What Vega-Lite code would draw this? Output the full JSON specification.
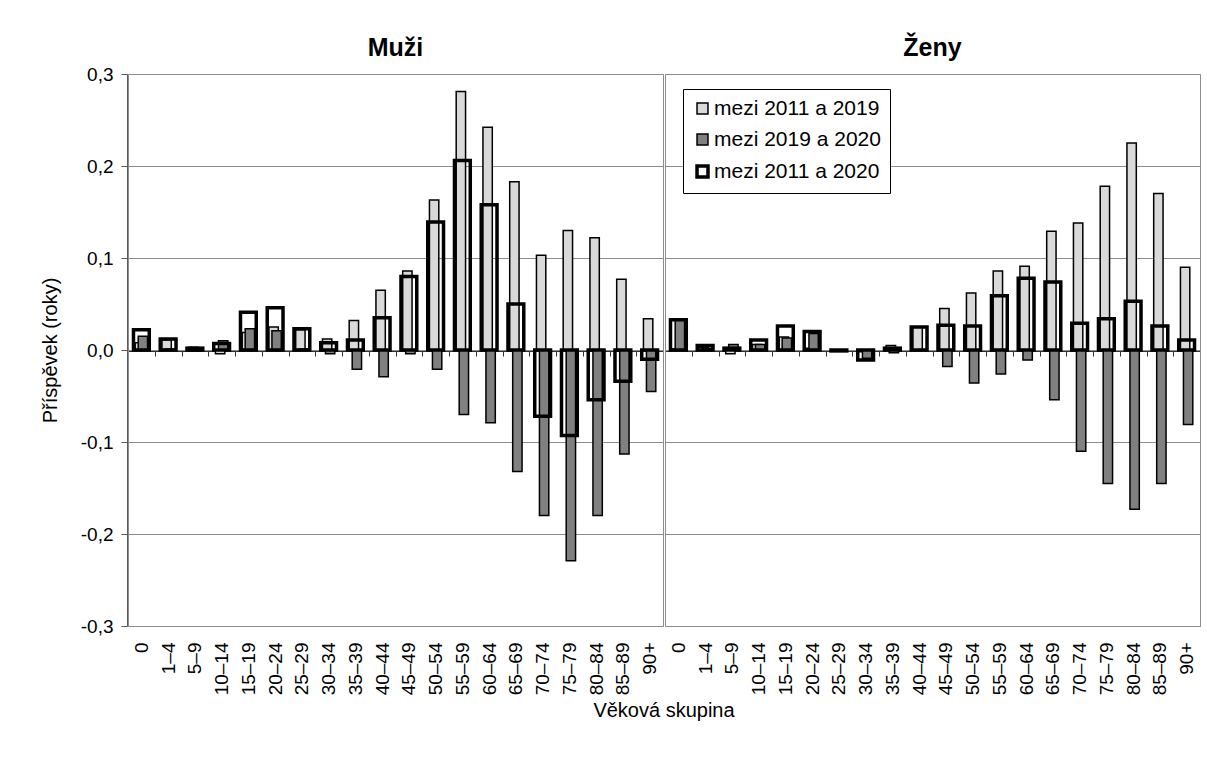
{
  "$schema": "https://vega.github.io/schema/vega-lite/v6.json",
  "padding": {"left": 40, "top": 36, "right": 0, "bottom": 0},
  "background": "white",
  "config": {
    "font": "Liberation Sans",
    "locale": {"number": {"decimal": ",", "thousands": " ", "grouping": [3], "currency": ["", " Kč"], "minus": "-"}},
    "view": {"stroke": "#8c8c8c", "strokeWidth": 1}
  },
  "data": {"values": [
    {"pohlavi": "Muži", "vek": "0", "obdobi": "mezi 2011 a 2019", "hodnota": 0.008},
    {"pohlavi": "Muži", "vek": "0", "obdobi": "mezi 2019 a 2020", "hodnota": 0.015},
    {"pohlavi": "Muži", "vek": "0", "obdobi": "mezi 2011 a 2020", "hodnota": 0.022},
    {"pohlavi": "Muži", "vek": "1–4", "obdobi": "mezi 2011 a 2019", "hodnota": 0.011},
    {"pohlavi": "Muži", "vek": "1–4", "obdobi": "mezi 2019 a 2020", "hodnota": 0.001},
    {"pohlavi": "Muži", "vek": "1–4", "obdobi": "mezi 2011 a 2020", "hodnota": 0.012},
    {"pohlavi": "Muži", "vek": "5–9", "obdobi": "mezi 2011 a 2019", "hodnota": 0.003},
    {"pohlavi": "Muži", "vek": "5–9", "obdobi": "mezi 2019 a 2020", "hodnota": -0.001},
    {"pohlavi": "Muži", "vek": "5–9", "obdobi": "mezi 2011 a 2020", "hodnota": 0.002},
    {"pohlavi": "Muži", "vek": "10–14", "obdobi": "mezi 2011 a 2019", "hodnota": -0.004},
    {"pohlavi": "Muži", "vek": "10–14", "obdobi": "mezi 2019 a 2020", "hodnota": 0.010},
    {"pohlavi": "Muži", "vek": "10–14", "obdobi": "mezi 2011 a 2020", "hodnota": 0.007},
    {"pohlavi": "Muži", "vek": "15–19", "obdobi": "mezi 2011 a 2019", "hodnota": 0.019},
    {"pohlavi": "Muži", "vek": "15–19", "obdobi": "mezi 2019 a 2020", "hodnota": 0.023},
    {"pohlavi": "Muži", "vek": "15–19", "obdobi": "mezi 2011 a 2020", "hodnota": 0.041},
    {"pohlavi": "Muži", "vek": "20–24", "obdobi": "mezi 2011 a 2019", "hodnota": 0.025},
    {"pohlavi": "Muži", "vek": "20–24", "obdobi": "mezi 2019 a 2020", "hodnota": 0.021},
    {"pohlavi": "Muži", "vek": "20–24", "obdobi": "mezi 2011 a 2020", "hodnota": 0.046},
    {"pohlavi": "Muži", "vek": "25–29", "obdobi": "mezi 2011 a 2019", "hodnota": 0.022},
    {"pohlavi": "Muži", "vek": "25–29", "obdobi": "mezi 2019 a 2020", "hodnota": 0.001},
    {"pohlavi": "Muži", "vek": "25–29", "obdobi": "mezi 2011 a 2020", "hodnota": 0.023},
    {"pohlavi": "Muži", "vek": "30–34", "obdobi": "mezi 2011 a 2019", "hodnota": 0.012},
    {"pohlavi": "Muži", "vek": "30–34", "obdobi": "mezi 2019 a 2020", "hodnota": -0.004},
    {"pohlavi": "Muži", "vek": "30–34", "obdobi": "mezi 2011 a 2020", "hodnota": 0.008},
    {"pohlavi": "Muži", "vek": "35–39", "obdobi": "mezi 2011 a 2019", "hodnota": 0.032},
    {"pohlavi": "Muži", "vek": "35–39", "obdobi": "mezi 2019 a 2020", "hodnota": -0.021},
    {"pohlavi": "Muži", "vek": "35–39", "obdobi": "mezi 2011 a 2020", "hodnota": 0.011},
    {"pohlavi": "Muži", "vek": "40–44", "obdobi": "mezi 2011 a 2019", "hodnota": 0.065},
    {"pohlavi": "Muži", "vek": "40–44", "obdobi": "mezi 2019 a 2020", "hodnota": -0.029},
    {"pohlavi": "Muži", "vek": "40–44", "obdobi": "mezi 2011 a 2020", "hodnota": 0.035},
    {"pohlavi": "Muži", "vek": "45–49", "obdobi": "mezi 2011 a 2019", "hodnota": 0.086},
    {"pohlavi": "Muži", "vek": "45–49", "obdobi": "mezi 2019 a 2020", "hodnota": -0.004},
    {"pohlavi": "Muži", "vek": "45–49", "obdobi": "mezi 2011 a 2020", "hodnota": 0.080},
    {"pohlavi": "Muži", "vek": "50–54", "obdobi": "mezi 2011 a 2019", "hodnota": 0.163},
    {"pohlavi": "Muži", "vek": "50–54", "obdobi": "mezi 2019 a 2020", "hodnota": -0.021},
    {"pohlavi": "Muži", "vek": "50–54", "obdobi": "mezi 2011 a 2020", "hodnota": 0.139},
    {"pohlavi": "Muži", "vek": "55–59", "obdobi": "mezi 2011 a 2019", "hodnota": 0.281},
    {"pohlavi": "Muži", "vek": "55–59", "obdobi": "mezi 2019 a 2020", "hodnota": -0.070},
    {"pohlavi": "Muži", "vek": "55–59", "obdobi": "mezi 2011 a 2020", "hodnota": 0.206},
    {"pohlavi": "Muži", "vek": "60–64", "obdobi": "mezi 2011 a 2019", "hodnota": 0.242},
    {"pohlavi": "Muži", "vek": "60–64", "obdobi": "mezi 2019 a 2020", "hodnota": -0.079},
    {"pohlavi": "Muži", "vek": "60–64", "obdobi": "mezi 2011 a 2020", "hodnota": 0.158},
    {"pohlavi": "Muži", "vek": "65–69", "obdobi": "mezi 2011 a 2019", "hodnota": 0.183},
    {"pohlavi": "Muži", "vek": "65–69", "obdobi": "mezi 2019 a 2020", "hodnota": -0.132},
    {"pohlavi": "Muži", "vek": "65–69", "obdobi": "mezi 2011 a 2020", "hodnota": 0.050},
    {"pohlavi": "Muži", "vek": "70–74", "obdobi": "mezi 2011 a 2019", "hodnota": 0.103},
    {"pohlavi": "Muži", "vek": "70–74", "obdobi": "mezi 2019 a 2020", "hodnota": -0.180},
    {"pohlavi": "Muži", "vek": "70–74", "obdobi": "mezi 2011 a 2020", "hodnota": -0.072},
    {"pohlavi": "Muži", "vek": "75–79", "obdobi": "mezi 2011 a 2019", "hodnota": 0.130},
    {"pohlavi": "Muži", "vek": "75–79", "obdobi": "mezi 2019 a 2020", "hodnota": -0.229},
    {"pohlavi": "Muži", "vek": "75–79", "obdobi": "mezi 2011 a 2020", "hodnota": -0.093},
    {"pohlavi": "Muži", "vek": "80–84", "obdobi": "mezi 2011 a 2019", "hodnota": 0.122},
    {"pohlavi": "Muži", "vek": "80–84", "obdobi": "mezi 2019 a 2020", "hodnota": -0.180},
    {"pohlavi": "Muži", "vek": "80–84", "obdobi": "mezi 2011 a 2020", "hodnota": -0.054},
    {"pohlavi": "Muži", "vek": "85–89", "obdobi": "mezi 2011 a 2019", "hodnota": 0.077},
    {"pohlavi": "Muži", "vek": "85–89", "obdobi": "mezi 2019 a 2020", "hodnota": -0.113},
    {"pohlavi": "Muži", "vek": "85–89", "obdobi": "mezi 2011 a 2020", "hodnota": -0.034},
    {"pohlavi": "Muži", "vek": "90+", "obdobi": "mezi 2011 a 2019", "hodnota": 0.034},
    {"pohlavi": "Muži", "vek": "90+", "obdobi": "mezi 2019 a 2020", "hodnota": -0.045},
    {"pohlavi": "Muži", "vek": "90+", "obdobi": "mezi 2011 a 2020", "hodnota": -0.010},
    {"pohlavi": "Ženy", "vek": "0", "obdobi": "mezi 2011 a 2019", "hodnota": 0.001},
    {"pohlavi": "Ženy", "vek": "0", "obdobi": "mezi 2019 a 2020", "hodnota": 0.033},
    {"pohlavi": "Ženy", "vek": "0", "obdobi": "mezi 2011 a 2020", "hodnota": 0.033},
    {"pohlavi": "Ženy", "vek": "1–4", "obdobi": "mezi 2011 a 2019", "hodnota": 0.003},
    {"pohlavi": "Ženy", "vek": "1–4", "obdobi": "mezi 2019 a 2020", "hodnota": 0.002},
    {"pohlavi": "Ženy", "vek": "1–4", "obdobi": "mezi 2011 a 2020", "hodnota": 0.005},
    {"pohlavi": "Ženy", "vek": "5–9", "obdobi": "mezi 2011 a 2019", "hodnota": -0.004},
    {"pohlavi": "Ženy", "vek": "5–9", "obdobi": "mezi 2019 a 2020", "hodnota": 0.006},
    {"pohlavi": "Ženy", "vek": "5–9", "obdobi": "mezi 2011 a 2020", "hodnota": 0.002},
    {"pohlavi": "Ženy", "vek": "10–14", "obdobi": "mezi 2011 a 2019", "hodnota": 0.006},
    {"pohlavi": "Ženy", "vek": "10–14", "obdobi": "mezi 2019 a 2020", "hodnota": 0.006},
    {"pohlavi": "Ženy", "vek": "10–14", "obdobi": "mezi 2011 a 2020", "hodnota": 0.011},
    {"pohlavi": "Ženy", "vek": "15–19", "obdobi": "mezi 2011 a 2019", "hodnota": 0.014},
    {"pohlavi": "Ženy", "vek": "15–19", "obdobi": "mezi 2019 a 2020", "hodnota": 0.013},
    {"pohlavi": "Ženy", "vek": "15–19", "obdobi": "mezi 2011 a 2020", "hodnota": 0.026},
    {"pohlavi": "Ženy", "vek": "20–24", "obdobi": "mezi 2011 a 2019", "hodnota": 0.002},
    {"pohlavi": "Ženy", "vek": "20–24", "obdobi": "mezi 2019 a 2020", "hodnota": 0.018},
    {"pohlavi": "Ženy", "vek": "20–24", "obdobi": "mezi 2011 a 2020", "hodnota": 0.020},
    {"pohlavi": "Ženy", "vek": "25–29", "obdobi": "mezi 2011 a 2019", "hodnota": -0.001},
    {"pohlavi": "Ženy", "vek": "25–29", "obdobi": "mezi 2019 a 2020", "hodnota": 0.000},
    {"pohlavi": "Ženy", "vek": "25–29", "obdobi": "mezi 2011 a 2020", "hodnota": -0.001},
    {"pohlavi": "Ženy", "vek": "30–34", "obdobi": "mezi 2011 a 2019", "hodnota": -0.002},
    {"pohlavi": "Ženy", "vek": "30–34", "obdobi": "mezi 2019 a 2020", "hodnota": -0.009},
    {"pohlavi": "Ženy", "vek": "30–34", "obdobi": "mezi 2011 a 2020", "hodnota": -0.011},
    {"pohlavi": "Ženy", "vek": "35–39", "obdobi": "mezi 2011 a 2019", "hodnota": 0.005},
    {"pohlavi": "Ženy", "vek": "35–39", "obdobi": "mezi 2019 a 2020", "hodnota": -0.003},
    {"pohlavi": "Ženy", "vek": "35–39", "obdobi": "mezi 2011 a 2020", "hodnota": 0.002},
    {"pohlavi": "Ženy", "vek": "40–44", "obdobi": "mezi 2011 a 2019", "hodnota": 0.025},
    {"pohlavi": "Ženy", "vek": "40–44", "obdobi": "mezi 2019 a 2020", "hodnota": 0.000},
    {"pohlavi": "Ženy", "vek": "40–44", "obdobi": "mezi 2011 a 2020", "hodnota": 0.025},
    {"pohlavi": "Ženy", "vek": "45–49", "obdobi": "mezi 2011 a 2019", "hodnota": 0.045},
    {"pohlavi": "Ženy", "vek": "45–49", "obdobi": "mezi 2019 a 2020", "hodnota": -0.018},
    {"pohlavi": "Ženy", "vek": "45–49", "obdobi": "mezi 2011 a 2020", "hodnota": 0.027},
    {"pohlavi": "Ženy", "vek": "50–54", "obdobi": "mezi 2011 a 2019", "hodnota": 0.062},
    {"pohlavi": "Ženy", "vek": "50–54", "obdobi": "mezi 2019 a 2020", "hodnota": -0.036},
    {"pohlavi": "Ženy", "vek": "50–54", "obdobi": "mezi 2011 a 2020", "hodnota": 0.026},
    {"pohlavi": "Ženy", "vek": "55–59", "obdobi": "mezi 2011 a 2019", "hodnota": 0.086},
    {"pohlavi": "Ženy", "vek": "55–59", "obdobi": "mezi 2019 a 2020", "hodnota": -0.026},
    {"pohlavi": "Ženy", "vek": "55–59", "obdobi": "mezi 2011 a 2020", "hodnota": 0.059},
    {"pohlavi": "Ženy", "vek": "60–64", "obdobi": "mezi 2011 a 2019", "hodnota": 0.091},
    {"pohlavi": "Ženy", "vek": "60–64", "obdobi": "mezi 2019 a 2020", "hodnota": -0.011},
    {"pohlavi": "Ženy", "vek": "60–64", "obdobi": "mezi 2011 a 2020", "hodnota": 0.078},
    {"pohlavi": "Ženy", "vek": "65–69", "obdobi": "mezi 2011 a 2019", "hodnota": 0.129},
    {"pohlavi": "Ženy", "vek": "65–69", "obdobi": "mezi 2019 a 2020", "hodnota": -0.054},
    {"pohlavi": "Ženy", "vek": "65–69", "obdobi": "mezi 2011 a 2020", "hodnota": 0.074},
    {"pohlavi": "Ženy", "vek": "70–74", "obdobi": "mezi 2011 a 2019", "hodnota": 0.138},
    {"pohlavi": "Ženy", "vek": "70–74", "obdobi": "mezi 2019 a 2020", "hodnota": -0.110},
    {"pohlavi": "Ženy", "vek": "70–74", "obdobi": "mezi 2011 a 2020", "hodnota": 0.029},
    {"pohlavi": "Ženy", "vek": "75–79", "obdobi": "mezi 2011 a 2019", "hodnota": 0.178},
    {"pohlavi": "Ženy", "vek": "75–79", "obdobi": "mezi 2019 a 2020", "hodnota": -0.145},
    {"pohlavi": "Ženy", "vek": "75–79", "obdobi": "mezi 2011 a 2020", "hodnota": 0.034},
    {"pohlavi": "Ženy", "vek": "80–84", "obdobi": "mezi 2011 a 2019", "hodnota": 0.225},
    {"pohlavi": "Ženy", "vek": "80–84", "obdobi": "mezi 2019 a 2020", "hodnota": -0.173},
    {"pohlavi": "Ženy", "vek": "80–84", "obdobi": "mezi 2011 a 2020", "hodnota": 0.053},
    {"pohlavi": "Ženy", "vek": "85–89", "obdobi": "mezi 2011 a 2019", "hodnota": 0.170},
    {"pohlavi": "Ženy", "vek": "85–89", "obdobi": "mezi 2019 a 2020", "hodnota": -0.145},
    {"pohlavi": "Ženy", "vek": "85–89", "obdobi": "mezi 2011 a 2020", "hodnota": 0.026},
    {"pohlavi": "Ženy", "vek": "90+", "obdobi": "mezi 2011 a 2019", "hodnota": 0.090},
    {"pohlavi": "Ženy", "vek": "90+", "obdobi": "mezi 2019 a 2020", "hodnota": -0.081},
    {"pohlavi": "Ženy", "vek": "90+", "obdobi": "mezi 2011 a 2020", "hodnota": 0.011}
  ]},
  "spacing": 0,
  "facet": {
    "column": {
      "field": "pohlavi", "type": "nominal", "sort": ["Muži", "Ženy"], "title": "Věková skupina",
      "header": {
        "labelOrient": "top", "labelFontSize": 25, "labelFontWeight": "bold", "labelColor": "black", "labelPadding": 12, "labelFont": "Liberation Sans",
        "titleOrient": "bottom", "titleFontSize": 20, "titleFontWeight": "normal", "titleColor": "black", "titlePadding": -4, "titleFont": "Liberation Sans"
      }
    }
  },
  "spec": {
    "width": 535,
    "height": 552,
    "encoding": {
      "x": {
        "field": "vek", "type": "nominal",
        "sort": ["0", "1–4", "5–9", "10–14", "15–19", "20–24", "25–29", "30–34", "35–39", "40–44", "45–49", "50–54", "55–59", "60–64", "65–69", "70–74", "75–79", "80–84", "85–89", "90+"],
        "scale": {"paddingInner": 0, "paddingOuter": 0},
        "axis": {
          "title": null,
          "labelAngle": -90, "labelAlign": "right", "labelBaseline": "middle", "labelFontSize": 19, "labelColor": "black",
          "offset": -276, "labelPadding": 286, "tickBand": "extent", "tickSize": 5, "tickColor": "#333333",
          "domainColor": "#333333", "grid": false
        }
      },
      "y": {
        "field": "hodnota", "type": "quantitative",
        "scale": {"domain": [-0.3, 0.3], "nice": false, "zero": true},
        "axis": {
          "title": "Příspěvek (roky)", "titleFontSize": 20, "titleFontWeight": "normal", "titleColor": "black", "titlePadding": 20,
          "values": [-0.3, -0.2, -0.1, 0, 0.1, 0.2, 0.3], "format": ".1f",
          "labelFontSize": 19, "labelColor": "black", "labelPadding": 8,
          "grid": true, "gridColor": "#8c8c8c", "domainColor": "#595959", "tickColor": "#595959", "tickSize": 6
        }
      },
      "fill": {
        "field": "obdobi", "type": "nominal",
        "scale": {"domain": ["mezi 2011 a 2019", "mezi 2019 a 2020", "mezi 2011 a 2020"], "range": ["#d9d9d9", "#808080", "transparent"]},
        "legend": {
          "title": null, "orient": "none", "legendX": 555, "legendY": 15, "direction": "vertical",
          "fillColor": "white", "strokeColor": "black", "padding": 9,
          "symbolType": "square", "symbolSize": 120, "symbolStrokeColor": "black",
          "labelFontSize": 21, "labelColor": "black", "labelOffset": 1, "labelLimit": 400, "rowPadding": 9,
          "encode": {
            "symbols": {
              "update": {
                "stroke": {"value": "black"},
                "strokeWidth": {"signal": "datum.label === 'mezi 2011 a 2020' ? 3.5 : 1.5"}
              }
            }
          }
        }
      }
    },
    "layer": [
      {
        "transform": [{"filter": "datum.obdobi === 'mezi 2011 a 2019'"}],
        "mark": {"type": "bar", "width": {"band": 0.35}, "xOffset": -1.5, "stroke": "black", "strokeWidth": 1.5}
      },
      {
        "transform": [{"filter": "datum.obdobi === 'mezi 2019 a 2020'"}],
        "mark": {"type": "bar", "width": {"band": 0.35}, "xOffset": 1.5, "stroke": "black", "strokeWidth": 1.5}
      },
      {
        "transform": [{"filter": "datum.obdobi === 'mezi 2011 a 2020'"}],
        "mark": {"type": "bar", "width": {"band": 0.59}, "stroke": "black", "strokeWidth": 3.5}
      }
    ]
  }
}
